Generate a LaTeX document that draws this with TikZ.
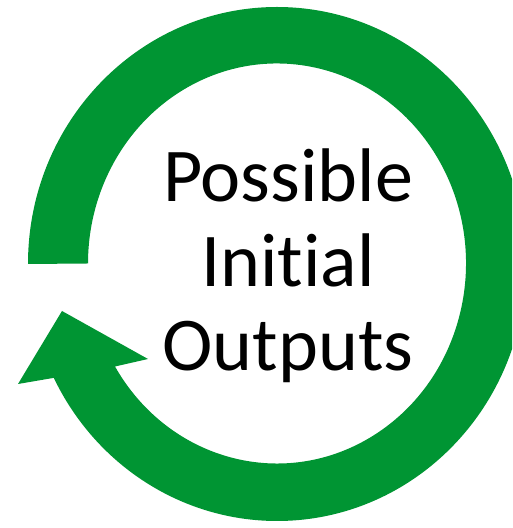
\documentclass[tikz,border=0pt]{standalone}
\usepackage{fontspec}
\setmainfont{Carlito}[Ligatures=NoCommon]
\definecolor{ringgreen}{RGB}{0,149,51}
\begin{document}
\begin{tikzpicture}[x=1pt,y=1pt,
  ring/.style={fill=ringgreen,draw=none},
  label/.style={anchor=base,inner sep=0pt,font=\fontsize{76}{84}\selectfont}]
\useasboundingbox (0,0) rectangle (512,528);
\clip (0,0) rectangle (512,528);
\fill[white] (0,0) rectangle (512,528);
\path[ring] (28,264) arc[start angle=180,end angle=-153.7,x radius=249,y radius=257]
  -- (18,144) -- (62,217) -- (148,169)
  -- (115,161.5) arc[start angle=-149,end angle=180,x radius=189,y radius=200]
  -- cycle;
\node[label] (l1) at (288,326) {Possible};
\node[label] (l2) at (288,241) {Initial};
\node[label] (l3) at (288,157) {Outputs};
\end{tikzpicture}
\end{document}
